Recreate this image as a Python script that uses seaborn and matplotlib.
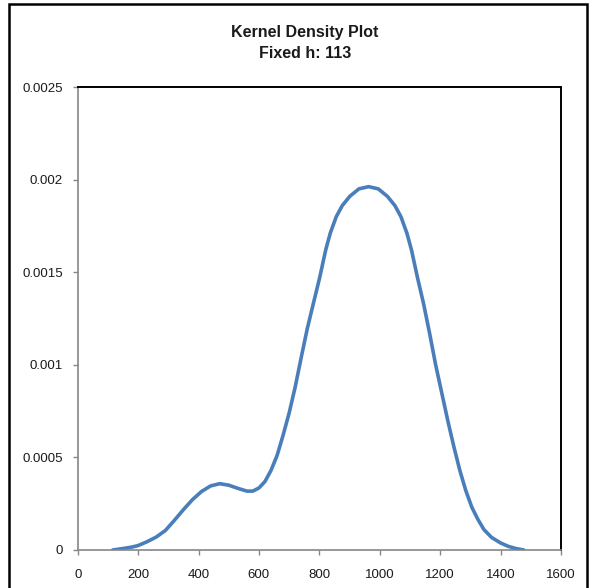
import matplotlib
matplotlib.use("Agg")
import matplotlib.pyplot as plt
from matplotlib.patches import Rectangle
import seaborn as sns
import pandas as pd

# Kernel density estimate (fixed bandwidth h = 113), evaluated along x
x_values = [116, 150, 180, 200, 230, 260, 290, 320, 350, 380, 410, 440, 470,
            500, 530, 560, 580, 600, 620, 640, 660, 680, 700, 720, 740, 760,
            780, 801, 821, 836, 856, 876, 901, 931, 963, 995, 1025, 1050,
            1070, 1090, 1105, 1125, 1145, 1165, 1185, 1205, 1225, 1245, 1265,
            1285, 1305, 1325, 1345, 1370, 1400, 1425, 1450, 1477]
density = [0.0, 0.000008, 0.000016, 0.000024, 0.000045, 0.000070, 0.000105,
           0.000160, 0.000218, 0.000272, 0.000316, 0.000346, 0.000358,
           0.000350, 0.000333, 0.000318, 0.000318, 0.000335, 0.000370,
           0.000430, 0.000510, 0.000620, 0.000740, 0.000880, 0.001040,
           0.001195, 0.001330, 0.001470, 0.001620, 0.001710, 0.001800,
           0.001860, 0.001910, 0.001950, 0.001962, 0.001950, 0.001910,
           0.001860, 0.001800, 0.001710, 0.001620, 0.001470, 0.001330,
           0.001170, 0.001000, 0.000850, 0.000700, 0.000560, 0.000430,
           0.000320, 0.000230, 0.000165, 0.000110, 0.000068, 0.000038,
           0.000020, 0.000008, 0.0]

x_ticks = [0, 200, 400, 600, 800, 1000, 1200, 1400, 1600]
y_ticks = [0, 0.0005, 0.001, 0.0015, 0.002, 0.0025]
y_tick_labels = ["0", "0.0005", "0.001", "0.0015", "0.002", "0.0025"]

title = "Kernel Density Plot\nFixed h: 113"

sns.set_theme(style="white")
plt.rcParams["font.family"] = ["Liberation Sans", "DejaVu Sans"]

W, H = 590, 588
fig = plt.figure(figsize=(W / 100, H / 100), dpi=100)
fig.patch.set_facecolor("white")

left_px, right_px, top_px, bottom_px = 77.7, 561.0, 87.0, 550.0
ax = fig.add_axes([left_px / W, 1 - bottom_px / H,
                   (right_px - left_px) / W, (bottom_px - top_px) / H])

df = pd.DataFrame({"x": x_values, "density": density})
sns.lineplot(data=df, x="x", y="density", ax=ax, color="#4a7ebb",
             linewidth=2.6, sort=False, solid_capstyle="round",
             solid_joinstyle="round")

ax.set_xlim(0, 1600)
ax.set_ylim(0, 0.0025)
ax.set_xticks(x_ticks)
ax.set_xticklabels([str(t) for t in x_ticks])
ax.set_yticks(y_ticks)
ax.set_yticklabels(y_tick_labels)
ax.set_xlabel("")
ax.set_ylabel("")

axis_gray = "#868686"
for side in ("left", "bottom"):
    ax.spines[side].set_color(axis_gray)
    ax.spines[side].set_linewidth(1.2)
for side in ("top", "right"):
    ax.spines[side].set_color("black")
    ax.spines[side].set_linewidth(1.4)
    ax.spines[side].set_visible(True)

ax.tick_params(axis="both", which="major", direction="out", length=3.5,
               width=1.0, color=axis_gray, labelsize=9.5, labelcolor="#1a1a1a")
ax.tick_params(axis="y", pad=7)
ax.tick_params(axis="x", pad=10)
ax.tick_params(bottom=True, left=True)

fig.text(305 / W, 1 - 43 / H, title, ha="center", va="center",
         fontsize=11.5, fontweight="bold", color="#1a1a1a", linespacing=1.55)

# chart-area border
frame = Rectangle((8.5 / W, -0.05), (587 - 8.5) / W, 1.05 - 4 / H,
                  transform=fig.transFigure, fill=False, edgecolor="black",
                  linewidth=1.8, clip_on=False)
fig.patches.append(frame)

fig.savefig("out.png", dpi=100, facecolor="white")
